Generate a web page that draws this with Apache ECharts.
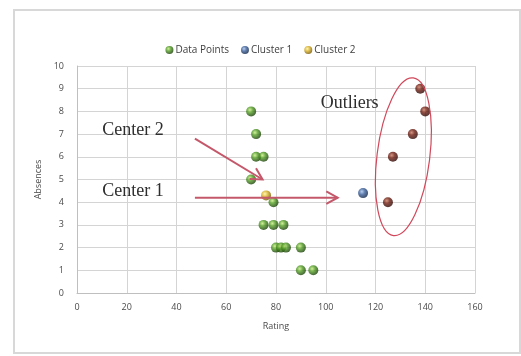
<!DOCTYPE html>
<html>
<head>
<meta charset="utf-8">
<style>
  html, body { margin: 0; padding: 0; background: #fff; }
  #chart { width: 521px; height: 356px; }
</style>
<script src="https://cdn.jsdelivr.net/npm/echarts@6/dist/echarts.min.js"></script>
</head>
<body>
<div id="chart"></div>
<script>
// Rating (x) and absences (y) for each group of students
const dataPoints = [
  [70, 8], [72, 7], [72, 6], [75, 6], [70, 5], [79, 4],
  [75, 3], [79, 3], [83, 3],
  [80, 2], [82, 2], [84, 2], [90, 2],
  [90, 1], [95, 1]
];
const cluster1 = [[115, 4.4]];
const cluster2 = [[76, 4.3]];
const outlierPoints = [[125, 4], [127, 6], [135, 7], [138, 9], [140, 8]];

const xTicks = { min: 0, max: 160, interval: 20 };
const yTicks = { min: 0, max: 10, interval: 1 };

// Annotation anchors, in data units
const center2Label = { text: 'Center 2', at: [22.5, 7.15] };
const center1Label = { text: 'Center 1', at: [22.5, 4.5] };
const outliersLabel = { text: 'Outliers', at: [109.6, 8.35] };
const center2Arrow = [[47.4, 6.8], [74.6, 5.0]];
const center1Arrow = [[47.4, 4.2], [104.8, 4.2]];
const outlierRing = { center: [131.2, 6.0], rx: 10.6, ry: 3.5 };

function sphere(light, mid, dark) {
  return {
    type: 'radial', x: 0.38, y: 0.35, r: 0.65,
    colorStops: [
      { offset: 0, color: light },
      { offset: 0.45, color: mid },
      { offset: 1, color: dark }
    ]
  };
}
const green = sphere('#c6ec80', '#4f9a22', '#1c4208');
const blue = sphere('#a9c4ec', '#3a5f9a', '#12264a');
const yellow = sphere('#fff3a0', '#d8b024', '#7a5a06');
const brown = sphere('#c87a60', '#6e1c10', '#2e0804');

const chart = echarts.init(document.getElementById('chart'), null, { renderer: 'canvas' });

const axisFont = { fontFamily: 'Open Sans, DejaVu Sans, sans-serif', fontSize: 9, color: '#4a4a4a' };

chart.setOption({
  backgroundColor: '#ffffff',
  animation: false,
  legend: {
    data: ['Data Points', 'Cluster 1', 'Cluster 2'],
    top: 40,
    left: 'center',
    itemWidth: 8,
    itemHeight: 8,
    itemGap: 12,
    icon: 'circle',
    textStyle: { fontFamily: 'Open Sans, DejaVu Sans, sans-serif', fontSize: 10, color: '#404040', padding: [0, 0, 0, -3] }
  },
  grid: { left: 77, right: 46, top: 66, bottom: 63 },
  xAxis: {
    type: 'value',
    min: xTicks.min, max: xTicks.max, interval: xTicks.interval,
    name: 'Rating', nameLocation: 'middle', nameGap: 29,
    nameTextStyle: axisFont,
    axisLine: { show: true, lineStyle: { color: '#bfbfbf' } },
    axisTick: { show: false },
    axisLabel: Object.assign({ margin: 10 }, axisFont),
    splitLine: { show: true, lineStyle: { color: '#d4d4d4', width: 1 } }
  },
  yAxis: {
    type: 'value',
    min: yTicks.min, max: yTicks.max, interval: yTicks.interval,
    name: 'Absences', nameLocation: 'middle', nameGap: 34, nameRotate: 90,
    nameTextStyle: axisFont,
    axisLine: { show: true, lineStyle: { color: '#bfbfbf' } },
    axisTick: { show: false },
    axisLabel: Object.assign({ margin: 13 }, axisFont),
    splitLine: { show: true, lineStyle: { color: '#d4d4d4', width: 1 } }
  },
  series: [
    { name: 'Data Points', type: 'scatter', data: dataPoints, symbolSize: 10,
      itemStyle: { color: green } },
    { name: 'Cluster 1', type: 'scatter', data: cluster1, symbolSize: 10,
      itemStyle: { color: blue } },
    { name: 'Cluster 2', type: 'scatter', data: cluster2, symbolSize: 10,
      itemStyle: { color: yellow } },
    { name: 'Outliers', type: 'scatter', data: outlierPoints, symbolSize: 10,
      itemStyle: { color: brown } }
  ]
});

// Annotations are placed through the chart's own coordinate conversion
const px = p => chart.convertToPixel({ gridIndex: 0 }, p);
const arrowColor = '#c4586a';

function arrow(pair) {
  const a = px(pair[0]), b = px(pair[1]);
  const ang = Math.atan2(b[1] - a[1], b[0] - a[0]);
  const len = 13, spread = 0.5;
  const h1 = [b[0] - len * Math.cos(ang - spread), b[1] - len * Math.sin(ang - spread)];
  const h2 = [b[0] - len * Math.cos(ang + spread), b[1] - len * Math.sin(ang + spread)];
  return [
    { type: 'polyline', shape: { points: [a, b] }, style: { stroke: arrowColor, lineWidth: 2, fill: null }, z: 5 },
    { type: 'polyline', shape: { points: [h1, b, h2] }, style: { stroke: arrowColor, lineWidth: 2, fill: null }, z: 5 }
  ];
}

function label(item) {
  const p = px(item.at);
  return {
    type: 'text', x: p[0], y: p[1], z: 6,
    style: {
      text: item.text, align: 'center', verticalAlign: 'middle',
      font: '18px "Liberation Serif", "DejaVu Serif", serif', fill: '#2e2e2e'
    }
  };
}

const c = px(outlierRing.center);
const ex = px([outlierRing.center[0] + outlierRing.rx, outlierRing.center[1]]);
const ey = px([outlierRing.center[0], outlierRing.center[1] + outlierRing.ry]);

chart.setOption({
  graphic: [
    { type: 'rect', shape: { x: 14, y: 10, width: 506, height: 343 },
      style: { stroke: '#d8d8d8', lineWidth: 2, fill: null }, z: -1, silent: true },
    label(center2Label),
    label(center1Label),
    label(outliersLabel),
    ...arrow(center2Arrow),
    ...arrow(center1Arrow),
    { type: 'ellipse', x: c[0], y: c[1], rotation: -0.125,
      shape: { cx: 0, cy: 0, rx: Math.abs(ex[0] - c[0]), ry: Math.abs(ey[1] - c[1]) },
      style: { stroke: '#d0485a', lineWidth: 1.2, fill: null }, z: 5 }
  ]
});
</script>
</body>
</html>
